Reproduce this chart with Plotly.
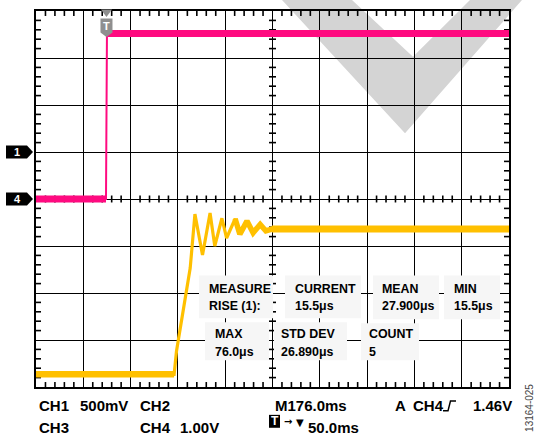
import plotly.graph_objects as go

# ---- page / graticule geometry (pixels) ----
W, H = 537, 435
GL, GR, GT, GB = 36, 509, 9, 387          # graticule frame
NX, NY = 10, 8                            # divisions across / down
DX = NX / (GR - GL)                       # divisions per pixel
DY = NY / (GB - GT)


def px(x, y):
    """page pixel -> paper coordinates"""
    return (x - GL) / (GR - GL), (GB - y) / (GB - GT)


def div2paper_y(v):
    return (v + NY / 2) / NY


# ---- waveform data, in screen divisions (centre line = 0) ----
ch4_t = [0.0, 1.48, 1.50, 10.0]
ch4_v = [0.0, 0.0, 3.52, 3.52]

ch1_t = [0.0, 2.92, 2.97, 3.26, 3.36, 3.52, 3.68, 3.78, 3.93, 4.03,
         4.21, 4.31, 4.46, 4.59, 4.74, 4.86, 4.99, 10.0]
ch1_v = [-3.73, -3.73, -3.24, -1.47, -0.32, -1.19, -0.30, -1.00, -0.41, -0.83,
         -0.42, -0.75, -0.47, -0.72, -0.54, -0.68, -0.64, -0.64]

ch1_ground = 1.0       # channel reference markers, divisions
ch4_ground = 0.0
trigger_t = 1.49

# measurement table
meas_names = ["MEASURE", "CURRENT", "MEAN", "MIN", "MAX", "STD DEV", "COUNT"]
meas_values = ["RISE (1):", "15.5μs", "27.900μs", "15.5μs", "76.0μs", "26.890μs", "5"]

PINK = "#ff0a80"
YELLOW = "#ffc000"
FONT = "Liberation Sans"

fig = go.Figure()

# ---- graticule minor ticks: inside the frame and across the centre lines ----
steps_x = [i / 5 for i in range(NX * 5 + 1) if i % 5]
steps_y = [i / 5 - NY / 2 for i in range(NY * 5 + 1) if i % 5]
tick_x, tick_y = [], []
TL = 5          # tick length, px
CL = 3.5        # half-length of centre-line ticks, px
for t in steps_x:
    for y0, y1 in ((NY / 2, NY / 2 - TL * DY), (-NY / 2, -NY / 2 + TL * DY),
                   (-CL * DY, CL * DY)):
        tick_x += [t, t, None]
        tick_y += [y0, y1, None]
for v in steps_y:
    for x0, x1 in ((0, TL * DX), (NX, NX - TL * DX),
                   (NX / 2 - CL * DX, NX / 2 + CL * DX)):
        tick_x += [x0, x1, None]
        tick_y += [v, v, None]
fig.add_trace(go.Scatter(x=tick_x, y=tick_y, mode="lines",
                         line=dict(color="black", width=1.6),
                         hoverinfo="skip", connectgaps=False))

# CH4 trace: thin edge plus the noisy flat levels
fig.add_trace(go.Scatter(x=ch4_t, y=ch4_v, mode="lines",
                         line=dict(color=PINK, width=2), hoverinfo="skip"))
fig.add_trace(go.Scatter(x=ch4_t[:2], y=ch4_v[:2], mode="lines",
                         line=dict(color=PINK, width=7), hoverinfo="skip"))
fig.add_trace(go.Scatter(x=ch4_t[2:], y=ch4_v[2:], mode="lines",
                         line=dict(color=PINK, width=7), hoverinfo="skip"))

# CH1 trace: ringing step, noise thickening the tail
fig.add_trace(go.Scatter(x=ch1_t, y=ch1_v, mode="lines",
                         line=dict(color=YELLOW, width=3.2), hoverinfo="skip"))
fig.add_trace(go.Scatter(x=ch1_t[:2], y=ch1_v[:2], mode="lines",
                         line=dict(color=YELLOW, width=6.5), hoverinfo="skip"))
fig.add_trace(go.Scatter(x=ch1_t[10:], y=ch1_v[10:], mode="lines",
                         line=dict(color=YELLOW, width=5.5), hoverinfo="skip"))
fig.add_trace(go.Scatter(x=ch1_t[-2:], y=ch1_v[-2:], mode="lines",
                         line=dict(color=YELLOW, width=7), hoverinfo="skip"))

shapes = []
annotations = []

# background logo chevron
pts = [(282, -2), (405, 132), (522, -2), (470, -2), (413, 55), (352, -2)]
path = "M " + " L ".join("%.5f,%.5f" % px(x, y) for x, y in pts) + " Z"
shapes.append(dict(type="path", xref="paper", yref="paper", path=path,
                   fillcolor="#d4d4d4", line=dict(width=0), layer="below"))

# channel ground markers on the left edge
for label, g in (("1", ch1_ground), ("4", ch4_ground)):
    yp = div2paper_y(g)
    shapes.append(dict(type="path", xref="paper", yref="paper",
                       xsizemode="pixel", ysizemode="pixel",
                       xanchor=0, yanchor=yp,
                       path="M -30,-6.5 L -9,-6.5 L -3,0 L -9,6.5 L -30,6.5 Z",
                       fillcolor="black", line=dict(width=0), layer="above"))
    annotations.append(dict(xref="paper", yref="paper", x=0, y=yp, xshift=-19,
                            text=label, showarrow=False, xanchor="center",
                            yanchor="middle",
                            font=dict(family=FONT, size=11, color="white",
                                      weight="bold")))

# trigger position marker at the top edge
tx = trigger_t / NX
shapes.append(dict(type="path", xref="paper", yref="paper",
                   xsizemode="pixel", ysizemode="pixel", xanchor=tx, yanchor=1,
                   path="M -5.5,1.5 L 5.5,1.5 L 0,-6 Z",
                   fillcolor="#8f8f8f", line=dict(width=0), layer="above"))
shapes.append(dict(type="path", xref="paper", yref="paper",
                   xsizemode="pixel", ysizemode="pixel", xanchor=tx, yanchor=1,
                   path="M -6,-7.5 L 6,-7.5 L 6,-21.5 L 0,-26 L -6,-21.5 Z",
                   fillcolor="#8f8f8f", line=dict(width=0), layer="above"))
annotations.append(dict(xref="paper", yref="paper", x=tx, y=1, yshift=-15,
                        text="T", showarrow=False, xanchor="center",
                        yanchor="middle",
                        font=dict(family=FONT, size=11, color="white",
                                  weight="bold")))

# measurement boxes
boxes = [(199, 275, 273, 318), (285, 275, 361, 318), (373, 275, 439, 319),
         (444, 275, 500, 319), (205, 322, 269, 360), (274, 322, 347, 360),
         (361, 323, 419, 360)]
text_pos = [(207, 288), (293, 288), (380, 288), (452, 288),
            (213, 334), (279, 334), (367, 334)]
for (x0, y0, x1, y1), (tx0, ty0), name, val in zip(boxes, text_pos,
                                                    meas_names, meas_values):
    a0, b0 = px(x0, y1)
    a1, b1 = px(x1, y0)
    shapes.append(dict(type="rect", xref="paper", yref="paper",
                       x0=a0, y0=b0, x1=a1, y1=b1, fillcolor="#f6f6f6",
                       line=dict(width=0), layer="above"))
    for txt, yy in ((name, ty0), (val, ty0 + 18)):
        ax, ay = px(tx0, yy)
        annotations.append(dict(xref="paper", yref="paper", x=ax, y=ay,
                                text=txt, showarrow=False, xanchor="left",
                                yanchor="middle",
                                font=dict(family=FONT, size=12.4,
                                          color="black", weight="bold")))

# status line under the graticule
status = [("CH1", 37, 406), ("500mV", 78, 406), ("CH2", 138, 406),
          ("M176.0ms", 273, 406), ("A", 393, 406), ("CH4", 411, 406),
          ("1.46V", 471, 406),
          ("CH3", 37, 428), ("CH4", 138, 428), ("1.00V", 178, 428),
          ("50.0ms", 306, 428)]
for txt, x, y in status:
    ax, ay = px(x, y)
    annotations.append(dict(xref="paper", yref="paper", x=ax, y=ay, text=txt,
                            showarrow=False, xanchor="left", yanchor="middle",
                            font=dict(family=FONT, size=15, color="black",
                                      weight="bold")))

# rising-edge trigger slope glyph
edge = [(443, 411), (448, 411), (450.5, 401), (456, 401)]
shapes.append(dict(type="path", xref="paper", yref="paper",
                   path="M " + " L ".join("%.5f,%.5f" % px(x, y) for x, y in edge),
                   line=dict(color="black", width=1.5)))

# trigger-offset box "T → ▼"
a0, b0 = px(269, 428)
a1, b1 = px(280, 415)
shapes.append(dict(type="rect", xref="paper", yref="paper", x0=a0, y0=b0,
                   x1=a1, y1=b1, fillcolor="black", line=dict(width=0)))
ax, ay = px(274.5, 421.5)
annotations.append(dict(xref="paper", yref="paper", x=ax, y=ay, text="T",
                        showarrow=False, xanchor="center", yanchor="middle",
                        font=dict(family=FONT, size=12, color="white",
                                  weight="bold")))
ax, ay = px(282, 422)
annotations.append(dict(xref="paper", yref="paper", x=ax, y=ay, text="→",
                        showarrow=False, xanchor="left", yanchor="middle",
                        font=dict(family="DejaVu Sans", size=10,
                                  color="black", weight="bold")))
ax, ay = px(294, 423)
annotations.append(dict(xref="paper", yref="paper", x=ax, y=ay, text="▼",
                        showarrow=False, xanchor="left", yanchor="middle",
                        font=dict(family="DejaVu Sans", size=10,
                                  color="black")))

# figure number, rotated
ax, ay = px(530, 408)
annotations.append(dict(xref="paper", yref="paper", x=ax, y=ay,
                        text="13164-025", textangle=-90, showarrow=False,
                        xanchor="center", yanchor="middle",
                        font=dict(family=FONT, size=10, color="#444444")))

axis_common = dict(showgrid=True, gridcolor="black", gridwidth=1.4,
                   zeroline=False, showticklabels=False, ticks="",
                   showline=True, linecolor="black", linewidth=2,
                   mirror=True, fixedrange=True)

fig.update_layout(
    width=W, height=H, autosize=False,
    margin=dict(l=GL, r=W - GR, t=GT, b=H - GB, pad=0),
    paper_bgcolor="white", plot_bgcolor="rgba(0,0,0,0)",
    showlegend=False,
    xaxis=dict(range=[0, NX], dtick=1, tick0=0, **axis_common),
    yaxis=dict(range=[-NY / 2, NY / 2], dtick=1, tick0=0, **axis_common),
    shapes=shapes, annotations=annotations,
)

fig.write_html("out.html")
